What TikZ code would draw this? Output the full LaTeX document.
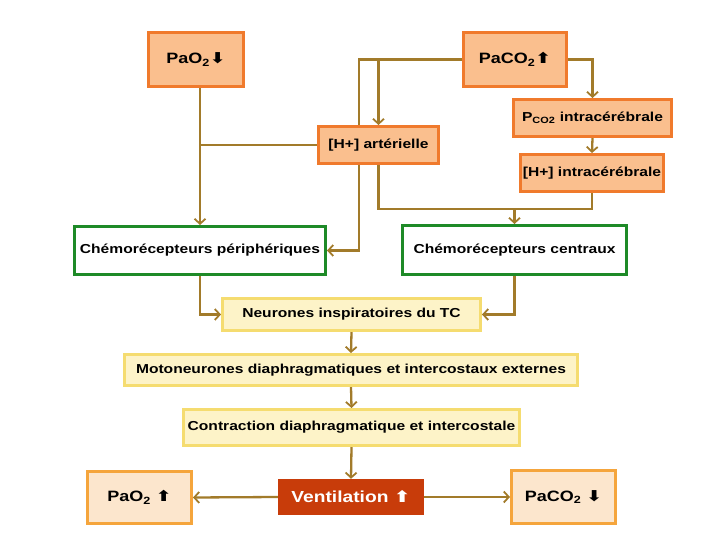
\documentclass[tikz,border=0pt]{standalone}
\usepackage{fontspec}
\setmainfont{Liberation Sans}[FakeStretch=1.2]
\newfontfamily\symfont{DejaVu Sans}[FakeStretch=1.25]
\usetikzlibrary{arrows.meta,backgrounds}
\definecolor{lnkcol}{HTML}{A27B2A}
\definecolor{orline}{HTML}{F07A2C}
\definecolor{orfill}{HTML}{FABF8E}
\definecolor{ltline}{HTML}{F5A53C}
\definecolor{ltfill}{HTML}{FCE6CD}
\definecolor{yeline}{HTML}{F5DC70}
\definecolor{yefill}{HTML}{FDF3C8}
\definecolor{grline}{HTML}{1E8A28}
\definecolor{vefill}{HTML}{C83C0A}
\def\boxLine{3pt}
\def\lnkLine{2.3pt}
\def\fSize{\fontsize{13}{15}\selectfont\bfseries}
\def\tSize{\fontsize{15}{17}\selectfont}
\def\bSize{\fontsize{15}{17}\selectfont\bfseries}
\newcommand{\up}{{\symfont\char"2B06}}
\newcommand{\down}{{\symfont\char"2B07}}
\tikzset{obox/.style={draw=orline,fill=orfill,line width=\boxLine,inner sep=0,font=\fSize}}
\tikzset{gbox/.style={draw=grline,fill=white,line width=\boxLine,inner sep=0,font=\fSize}}
\tikzset{ybox/.style={draw=yeline,fill=yefill,line width=\boxLine,inner sep=0,font=\fSize}}
\tikzset{lbox/.style={draw=ltline,fill=ltfill,line width=\boxLine,inner sep=0,font=\bSize}}
\tikzset{vbox/.style={fill=vefill,text=white,inner sep=0,font=\bSize}}
\tikzset{lnk/.style={draw=lnkcol,line width=\lnkLine}}
\tikzset{arr/.style={lnk,-{Straight Barb[length=5pt,width=11pt,line width=1.8pt]}}}

\begin{document}
\begin{tikzpicture}[x=1pt,y=-1pt]
\useasboundingbox (0,0) rectangle (720,540);
% sources
\node[obox,minimum width=95,minimum height=54] (pao) at (196,59.5) {\tSize PaO\textsubscript{2}\down};
\node[obox,minimum width=103,minimum height=54] (paco) at (515,59.5) {\tSize PaCO\textsubscript{2}\up};
\node[obox,minimum width=120,minimum height=37] (hart) at (378.5,145) {[H+] artérielle};
\node[obox,minimum width=158,minimum height=37] (pcoi) at (592.5,118) {P\textsubscript{CO2} intracérébrale};
\node[obox,minimum width=143,minimum height=37] (hint) at (592,173) {[H+] intracérébrale};
% recepteurs
\node[gbox,minimum width=251,minimum height=48] (chp) at (200,250.5) {Chémorécepteurs périphériques};
\node[gbox,minimum width=224,minimum height=49] (chc) at (514.5,250) {Chémorécepteurs centraux};
% chaine motrice
\node[ybox,minimum width=258,minimum height=32] (neur) at (351.5,314.5) {Neurones inspiratoires du TC};
\node[ybox,minimum width=453,minimum height=31] (moto) at (351,370) {Motoneurones diaphragmatiques et intercostaux externes};
\node[ybox,minimum width=336,minimum height=36] (contr) at (351.5,427.5) {Contraction diaphragmatique et intercostale};
\node[vbox,minimum width=146,minimum height=36] (vent) at (351,497) {\fontsize{16}{18}\selectfont Ventilation \up};
\node[lbox,minimum width=104,minimum height=52] (paob) at (139.5,497.5) {PaO\textsubscript{2} \up};
\node[lbox,minimum width=104,minimum height=53] (pacob) at (563.5,497) {PaCO\textsubscript{2} \down};
\coordinate (jc) at ([yshift=15pt]chc.north);
\begin{pgfonlayer}{background}
\draw[arr] (pao.south -| chp.north) -- (chp.north);
\draw[lnk] (hart.west) -- (hart.west -| chp.north);
\draw[arr] (paco.west) -| ([xshift=32pt]chp.east) -- (chp.east);
\draw[arr] (hart.north |- paco.west) -- (hart.north);
\draw[arr] (paco.east) -| (pcoi.north);
\draw[arr] (pcoi.south) -- (hint.north);
\draw[lnk] (hart.south) |- (jc) -| (hint.south);
\draw[arr] (jc) -- (chc.north);
\draw[arr] (chp.south) |- (neur.west);
\draw[arr] (chc.south) |- (neur.east);
\draw[arr] (neur.south) -- (moto.north);
\draw[arr] (moto.south) -- (contr.north);
\draw[arr] (contr.south) -- (vent.north);
\draw[arr] (vent.west) -- (paob.east);
\draw[arr] (vent.east) -- (pacob.west);
\end{pgfonlayer}
\end{tikzpicture}
\end{document}
